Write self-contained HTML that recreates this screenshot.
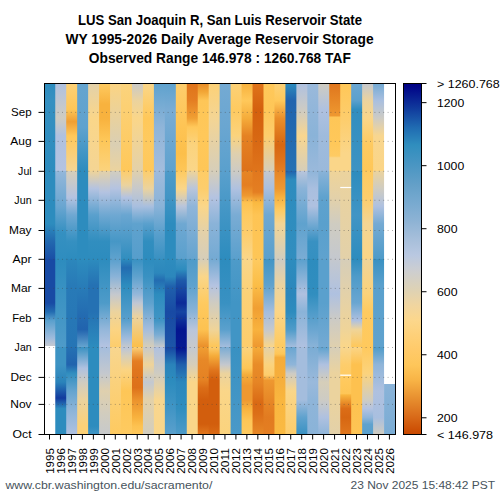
<!DOCTYPE html><html><head><meta charset="utf-8"><style>html,body{margin:0;padding:0;background:#fff;}svg{display:block;}</style></head><body>
<svg width="500" height="500" viewBox="0 0 500 500">
<defs><linearGradient id="g0" gradientUnits="userSpaceOnUse" x1="0" y1="83.5" x2="0" y2="434.5"><stop offset="0.0000" stop-color="#2d8cbe"/><stop offset="0.0487" stop-color="#3590c1"/><stop offset="0.2493" stop-color="#2d8cbe"/><stop offset="0.2493" stop-color="#2d8cbe"/><stop offset="0.3997" stop-color="#2d8cbe"/><stop offset="0.4499" stop-color="#2268af"/><stop offset="0.5000" stop-color="#1a4fa6"/><stop offset="0.5000" stop-color="#184aa4"/><stop offset="0.6254" stop-color="#184aa4"/><stop offset="0.6504" stop-color="#236cb1"/><stop offset="0.6755" stop-color="#5aa0cd"/><stop offset="0.7256" stop-color="#9fbbdc"/><stop offset="0.7457" stop-color="#c2c8d1"/></linearGradient><linearGradient id="g1" gradientUnits="userSpaceOnUse" x1="0" y1="83.5" x2="0" y2="434.5"><stop offset="0.0000" stop-color="#afc1e0"/><stop offset="0.0989" stop-color="#cfccc1"/><stop offset="0.1490" stop-color="#afc1e0"/><stop offset="0.2493" stop-color="#b4c3e1"/><stop offset="0.2493" stop-color="#94b7da"/><stop offset="0.3496" stop-color="#6aa6d1"/><stop offset="0.4248" stop-color="#3590c1"/><stop offset="0.5000" stop-color="#2f8dbf"/><stop offset="0.5000" stop-color="#2d8cbe"/><stop offset="0.7507" stop-color="#4e9bc9"/><stop offset="0.7507" stop-color="#3d93c3"/><stop offset="0.8009" stop-color="#3d93c3"/><stop offset="0.8510" stop-color="#2a83ba"/><stop offset="0.8961" stop-color="#123a9e"/><stop offset="0.9262" stop-color="#2d8cbe"/><stop offset="1.0000" stop-color="#2d8cbe"/></linearGradient><linearGradient id="g2" gradientUnits="userSpaceOnUse" x1="0" y1="83.5" x2="0" y2="434.5"><stop offset="0.0000" stop-color="#fcd177"/><stop offset="0.0738" stop-color="#fec657"/><stop offset="0.1089" stop-color="#f09f33"/><stop offset="0.1490" stop-color="#ffc85a"/><stop offset="0.2493" stop-color="#f4d594"/><stop offset="0.2493" stop-color="#d6ceb9"/><stop offset="0.3245" stop-color="#b4c3e1"/><stop offset="0.3746" stop-color="#6fa8d2"/><stop offset="0.4499" stop-color="#3590c1"/><stop offset="0.5000" stop-color="#2d8cbe"/><stop offset="0.5000" stop-color="#2c87bc"/><stop offset="0.5752" stop-color="#287ab7"/><stop offset="0.7507" stop-color="#2675b5"/><stop offset="0.7507" stop-color="#2571b3"/><stop offset="0.8009" stop-color="#2163ae"/><stop offset="0.8259" stop-color="#318ebf"/><stop offset="0.8761" stop-color="#65a4cf"/><stop offset="0.9262" stop-color="#8ab3d8"/><stop offset="1.0000" stop-color="#afc1e0"/></linearGradient><linearGradient id="g3" gradientUnits="userSpaceOnUse" x1="0" y1="83.5" x2="0" y2="434.5"><stop offset="0.0000" stop-color="#65a4cf"/><stop offset="0.1239" stop-color="#5fa2ce"/><stop offset="0.2493" stop-color="#2d8cbe"/><stop offset="0.2493" stop-color="#2d8cbe"/><stop offset="0.5000" stop-color="#2d8cbe"/><stop offset="0.5000" stop-color="#2d8cbe"/><stop offset="0.7006" stop-color="#2163ae"/><stop offset="0.7507" stop-color="#65a4cf"/><stop offset="0.7507" stop-color="#3991c2"/><stop offset="0.8109" stop-color="#afc1e0"/><stop offset="0.8510" stop-color="#cfccc1"/><stop offset="0.9011" stop-color="#ebd39e"/><stop offset="0.9764" stop-color="#fcd177"/><stop offset="1.0000" stop-color="#fcd177"/></linearGradient><linearGradient id="g4" gradientUnits="userSpaceOnUse" x1="0" y1="83.5" x2="0" y2="434.5"><stop offset="0.0000" stop-color="#e3d1a9"/><stop offset="0.0989" stop-color="#fad689"/><stop offset="0.2493" stop-color="#f4d594"/><stop offset="0.2493" stop-color="#efd499"/><stop offset="0.2994" stop-color="#b4c3e1"/><stop offset="0.3746" stop-color="#5aa0cd"/><stop offset="0.4499" stop-color="#318ebf"/><stop offset="0.5000" stop-color="#2d8cbe"/><stop offset="0.5000" stop-color="#2d8cbe"/><stop offset="0.5752" stop-color="#2571b3"/><stop offset="0.6504" stop-color="#2571b3"/><stop offset="0.7507" stop-color="#2d8cbe"/><stop offset="0.7507" stop-color="#2d8cbe"/><stop offset="0.9764" stop-color="#2d8cbe"/><stop offset="1.0000" stop-color="#4195c5"/></linearGradient><linearGradient id="g5" gradientUnits="userSpaceOnUse" x1="0" y1="83.5" x2="0" y2="434.5"><stop offset="0.0000" stop-color="#feca60"/><stop offset="0.0587" stop-color="#f8b23e"/><stop offset="0.0989" stop-color="#f8b23e"/><stop offset="0.1590" stop-color="#fec657"/><stop offset="0.2493" stop-color="#fbd37d"/><stop offset="0.2493" stop-color="#e3d1a9"/><stop offset="0.3095" stop-color="#b4c3e1"/><stop offset="0.3746" stop-color="#6fa8d2"/><stop offset="0.4499" stop-color="#318ebf"/><stop offset="0.5000" stop-color="#2d8cbe"/><stop offset="0.5000" stop-color="#2d8cbe"/><stop offset="0.6254" stop-color="#4e9bc9"/><stop offset="0.7006" stop-color="#94b7da"/><stop offset="0.7507" stop-color="#b4c3e1"/><stop offset="0.7507" stop-color="#a4bddd"/><stop offset="0.8259" stop-color="#c4c8ce"/><stop offset="0.8761" stop-color="#dfd0ae"/><stop offset="0.9513" stop-color="#cfccc1"/><stop offset="1.0000" stop-color="#c7c9cb"/></linearGradient><linearGradient id="g6" gradientUnits="userSpaceOnUse" x1="0" y1="83.5" x2="0" y2="434.5"><stop offset="0.0000" stop-color="#fbd483"/><stop offset="0.1741" stop-color="#dacfb3"/><stop offset="0.2493" stop-color="#ebd39e"/><stop offset="0.2493" stop-color="#d2cdbe"/><stop offset="0.2994" stop-color="#b4c3e1"/><stop offset="0.3746" stop-color="#6fa8d2"/><stop offset="0.4499" stop-color="#4697c6"/><stop offset="0.5000" stop-color="#5fa2ce"/><stop offset="0.5000" stop-color="#5aa0cd"/><stop offset="0.5501" stop-color="#8ab3d8"/><stop offset="0.6003" stop-color="#c4c8ce"/><stop offset="0.6504" stop-color="#ebd39e"/><stop offset="0.7006" stop-color="#fbd483"/><stop offset="0.7507" stop-color="#fdcd6c"/><stop offset="0.7507" stop-color="#f8d68f"/><stop offset="1.0000" stop-color="#feca60"/></linearGradient><linearGradient id="g7" gradientUnits="userSpaceOnUse" x1="0" y1="83.5" x2="0" y2="434.5"><stop offset="0.0000" stop-color="#fbd37d"/><stop offset="0.2493" stop-color="#ffc85a"/><stop offset="0.2493" stop-color="#fdcd6c"/><stop offset="0.2894" stop-color="#ebd39e"/><stop offset="0.3245" stop-color="#b4c3e1"/><stop offset="0.3746" stop-color="#6aa6d1"/><stop offset="0.5000" stop-color="#318ebf"/><stop offset="0.5000" stop-color="#2d8cbe"/><stop offset="0.5251" stop-color="#236cb1"/><stop offset="0.5752" stop-color="#2d8cbe"/><stop offset="0.6755" stop-color="#5aa0cd"/><stop offset="0.7256" stop-color="#9fbbdc"/><stop offset="0.7507" stop-color="#c4c8ce"/><stop offset="0.7507" stop-color="#b9c5db"/><stop offset="0.7758" stop-color="#d6ceb9"/><stop offset="0.8159" stop-color="#fbd483"/><stop offset="0.8761" stop-color="#fec657"/><stop offset="1.0000" stop-color="#feca60"/></linearGradient><linearGradient id="g8" gradientUnits="userSpaceOnUse" x1="0" y1="83.5" x2="0" y2="434.5"><stop offset="0.0000" stop-color="#cacac8"/><stop offset="0.0487" stop-color="#ebd39e"/><stop offset="0.0989" stop-color="#fad689"/><stop offset="0.2493" stop-color="#e3d1a9"/><stop offset="0.2493" stop-color="#dfd0ae"/><stop offset="0.2994" stop-color="#c7c9cb"/><stop offset="0.3496" stop-color="#a9bfdf"/><stop offset="0.3997" stop-color="#5fa2ce"/><stop offset="0.5000" stop-color="#569ecc"/><stop offset="0.5000" stop-color="#3991c2"/><stop offset="0.5501" stop-color="#5fa2ce"/><stop offset="0.6003" stop-color="#94b7da"/><stop offset="0.6254" stop-color="#bfc7d4"/><stop offset="0.6655" stop-color="#ebd39e"/><stop offset="0.7507" stop-color="#fcbf4a"/><stop offset="0.7507" stop-color="#fcd177"/><stop offset="0.7908" stop-color="#e47e22"/><stop offset="0.8159" stop-color="#e0761d"/><stop offset="0.8660" stop-color="#dd711a"/><stop offset="0.9011" stop-color="#eb922c"/><stop offset="0.9513" stop-color="#f8b23e"/><stop offset="0.9764" stop-color="#fdc251"/><stop offset="1.0000" stop-color="#ffc85a"/></linearGradient><linearGradient id="g9" gradientUnits="userSpaceOnUse" x1="0" y1="83.5" x2="0" y2="434.5"><stop offset="0.0000" stop-color="#fad689"/><stop offset="0.0989" stop-color="#ffc85a"/><stop offset="0.1741" stop-color="#feca60"/><stop offset="0.2493" stop-color="#ffc85a"/><stop offset="0.2493" stop-color="#fdcd6c"/><stop offset="0.2994" stop-color="#ebd39e"/><stop offset="0.3496" stop-color="#a9bfdf"/><stop offset="0.3997" stop-color="#5aa0cd"/><stop offset="0.4499" stop-color="#318ebf"/><stop offset="0.5000" stop-color="#2d8cbe"/><stop offset="0.5000" stop-color="#2d8cbe"/><stop offset="0.5501" stop-color="#3991c2"/><stop offset="0.6254" stop-color="#5fa2ce"/><stop offset="0.7006" stop-color="#a4bddd"/><stop offset="0.7507" stop-color="#d6ceb9"/><stop offset="0.7507" stop-color="#c7c9cb"/><stop offset="0.8009" stop-color="#efd499"/><stop offset="0.8510" stop-color="#c2c8d1"/><stop offset="0.9011" stop-color="#e3d1a9"/><stop offset="1.0000" stop-color="#d2cdbe"/></linearGradient><linearGradient id="g10" gradientUnits="userSpaceOnUse" x1="0" y1="83.5" x2="0" y2="434.5"><stop offset="0.0000" stop-color="#5fa2ce"/><stop offset="0.1239" stop-color="#8fb5d9"/><stop offset="0.2493" stop-color="#a4bddd"/><stop offset="0.2493" stop-color="#9fbbdc"/><stop offset="0.3496" stop-color="#8ab3d8"/><stop offset="0.4248" stop-color="#5aa0cd"/><stop offset="0.5000" stop-color="#3991c2"/><stop offset="0.5000" stop-color="#318ebf"/><stop offset="0.5401" stop-color="#2c87bc"/><stop offset="0.5602" stop-color="#236cb1"/><stop offset="0.6003" stop-color="#2d8cbe"/><stop offset="0.6755" stop-color="#4195c5"/><stop offset="0.7156" stop-color="#7aacd4"/><stop offset="0.7507" stop-color="#c7c9cb"/><stop offset="0.7507" stop-color="#afc1e0"/><stop offset="0.8259" stop-color="#cfccc1"/><stop offset="0.9011" stop-color="#f8d68f"/><stop offset="1.0000" stop-color="#fad689"/></linearGradient><linearGradient id="g11" gradientUnits="userSpaceOnUse" x1="0" y1="83.5" x2="0" y2="434.5"><stop offset="0.0000" stop-color="#5fa2ce"/><stop offset="0.0738" stop-color="#7aacd4"/><stop offset="0.1741" stop-color="#6aa6d1"/><stop offset="0.2493" stop-color="#5fa2ce"/><stop offset="0.2493" stop-color="#4e9bc9"/><stop offset="0.3245" stop-color="#4195c5"/><stop offset="0.3997" stop-color="#2d8cbe"/><stop offset="0.5000" stop-color="#2d8cbe"/><stop offset="0.5000" stop-color="#2d8cbe"/><stop offset="0.5501" stop-color="#2c87bc"/><stop offset="0.5802" stop-color="#1f5fac"/><stop offset="0.6504" stop-color="#184aa4"/><stop offset="0.7507" stop-color="#1c55a8"/><stop offset="0.7507" stop-color="#1645a2"/><stop offset="0.8009" stop-color="#2a83ba"/><stop offset="0.8510" stop-color="#2d8cbe"/><stop offset="0.9262" stop-color="#4195c5"/><stop offset="1.0000" stop-color="#5aa0cd"/></linearGradient><linearGradient id="g12" gradientUnits="userSpaceOnUse" x1="0" y1="83.5" x2="0" y2="434.5"><stop offset="0.0000" stop-color="#fdcd6c"/><stop offset="0.1239" stop-color="#fec454"/><stop offset="0.1991" stop-color="#fcbf4a"/><stop offset="0.2493" stop-color="#fec657"/><stop offset="0.2493" stop-color="#feca60"/><stop offset="0.2994" stop-color="#fad689"/><stop offset="0.3496" stop-color="#b9c5db"/><stop offset="0.3997" stop-color="#6fa8d2"/><stop offset="0.5000" stop-color="#5aa0cd"/><stop offset="0.5000" stop-color="#4195c5"/><stop offset="0.5301" stop-color="#2d8cbe"/><stop offset="0.5602" stop-color="#1e5aaa"/><stop offset="0.6254" stop-color="#0c2a98"/><stop offset="0.6504" stop-color="#1645a2"/><stop offset="0.7006" stop-color="#041590"/><stop offset="0.7507" stop-color="#061a92"/><stop offset="0.7507" stop-color="#02108e"/><stop offset="0.8009" stop-color="#1f5fac"/><stop offset="0.8510" stop-color="#2c87bc"/><stop offset="0.9262" stop-color="#318ebf"/><stop offset="1.0000" stop-color="#4e9bc9"/></linearGradient><linearGradient id="g13" gradientUnits="userSpaceOnUse" x1="0" y1="83.5" x2="0" y2="434.5"><stop offset="0.0000" stop-color="#df741b"/><stop offset="0.0487" stop-color="#e47e22"/><stop offset="0.0989" stop-color="#f09f33"/><stop offset="0.1239" stop-color="#ffc85a"/><stop offset="0.1741" stop-color="#fbd37d"/><stop offset="0.2493" stop-color="#fad689"/><stop offset="0.2493" stop-color="#efd499"/><stop offset="0.2994" stop-color="#b9c5db"/><stop offset="0.3496" stop-color="#8fb5d9"/><stop offset="0.5000" stop-color="#65a4cf"/><stop offset="0.5000" stop-color="#4e9bc9"/><stop offset="0.5752" stop-color="#5fa2ce"/><stop offset="0.6504" stop-color="#8ab3d8"/><stop offset="0.7006" stop-color="#b9c5db"/><stop offset="0.7507" stop-color="#c7c9cb"/><stop offset="0.7507" stop-color="#c2c8d1"/><stop offset="0.8009" stop-color="#d6ceb9"/><stop offset="0.8510" stop-color="#fad689"/><stop offset="1.0000" stop-color="#fad689"/></linearGradient><linearGradient id="g14" gradientUnits="userSpaceOnUse" x1="0" y1="83.5" x2="0" y2="434.5"><stop offset="0.0000" stop-color="#e88c28"/><stop offset="0.0236" stop-color="#f2a636"/><stop offset="0.0487" stop-color="#fec657"/><stop offset="0.1490" stop-color="#ffc85a"/><stop offset="0.2493" stop-color="#fec657"/><stop offset="0.2493" stop-color="#fecc66"/><stop offset="0.2994" stop-color="#fdcd6c"/><stop offset="0.3496" stop-color="#fad689"/><stop offset="0.4248" stop-color="#e3d1a9"/><stop offset="0.5000" stop-color="#d6ceb9"/><stop offset="0.5000" stop-color="#d6ceb9"/><stop offset="0.5501" stop-color="#fad689"/><stop offset="0.6254" stop-color="#feca60"/><stop offset="0.7006" stop-color="#fdc251"/><stop offset="0.7507" stop-color="#ea8f2a"/><stop offset="0.7507" stop-color="#f09f33"/><stop offset="0.7878" stop-color="#e78827"/><stop offset="0.8450" stop-color="#e58223"/><stop offset="0.8675" stop-color="#db6d17"/><stop offset="0.9016" stop-color="#d25e0d"/><stop offset="0.9703" stop-color="#d25e0d"/><stop offset="1.0000" stop-color="#e1781e"/></linearGradient><linearGradient id="g15" gradientUnits="userSpaceOnUse" x1="0" y1="83.5" x2="0" y2="434.5"><stop offset="0.0000" stop-color="#fcd177"/><stop offset="0.0989" stop-color="#f4d594"/><stop offset="0.2493" stop-color="#d6ceb9"/><stop offset="0.2493" stop-color="#d6ceb9"/><stop offset="0.3245" stop-color="#b4c3e1"/><stop offset="0.3997" stop-color="#8ab3d8"/><stop offset="0.5000" stop-color="#74aad3"/><stop offset="0.5000" stop-color="#74aad3"/><stop offset="0.5752" stop-color="#b4c3e1"/><stop offset="0.6254" stop-color="#cfccc1"/><stop offset="0.7006" stop-color="#efd499"/><stop offset="0.7507" stop-color="#fec657"/><stop offset="0.7507" stop-color="#fdcd6c"/><stop offset="0.7758" stop-color="#f5ac3a"/><stop offset="0.8159" stop-color="#e0761d"/><stop offset="0.8450" stop-color="#d25e0d"/><stop offset="0.9703" stop-color="#d25e0d"/><stop offset="1.0000" stop-color="#da6b15"/></linearGradient><linearGradient id="g16" gradientUnits="userSpaceOnUse" x1="0" y1="83.5" x2="0" y2="434.5"><stop offset="0.0000" stop-color="#74aad3"/><stop offset="0.1239" stop-color="#6aa6d1"/><stop offset="0.2493" stop-color="#5aa0cd"/><stop offset="0.2493" stop-color="#5aa0cd"/><stop offset="0.3746" stop-color="#4195c5"/><stop offset="0.5000" stop-color="#2d8cbe"/><stop offset="0.5000" stop-color="#2d8cbe"/><stop offset="0.6254" stop-color="#3991c2"/><stop offset="0.7006" stop-color="#5aa0cd"/><stop offset="0.7507" stop-color="#a4bddd"/><stop offset="0.7507" stop-color="#7aacd4"/><stop offset="0.8009" stop-color="#c4c8ce"/><stop offset="0.8259" stop-color="#ebd39e"/><stop offset="0.8761" stop-color="#fad689"/><stop offset="1.0000" stop-color="#fbd37d"/></linearGradient><linearGradient id="g17" gradientUnits="userSpaceOnUse" x1="0" y1="83.5" x2="0" y2="434.5"><stop offset="0.0000" stop-color="#fcd177"/><stop offset="0.0738" stop-color="#feca60"/><stop offset="0.1490" stop-color="#fbd37d"/><stop offset="0.1991" stop-color="#dfd0ae"/><stop offset="0.2493" stop-color="#cdcbc4"/><stop offset="0.2493" stop-color="#cdcbc4"/><stop offset="0.2994" stop-color="#afc1e0"/><stop offset="0.3746" stop-color="#7aacd4"/><stop offset="0.5000" stop-color="#5aa0cd"/><stop offset="0.5000" stop-color="#4e9bc9"/><stop offset="0.6254" stop-color="#4195c5"/><stop offset="0.7507" stop-color="#4195c5"/><stop offset="0.7507" stop-color="#3991c2"/><stop offset="0.8761" stop-color="#4195c5"/><stop offset="1.0000" stop-color="#4a99c8"/></linearGradient><linearGradient id="g18" gradientUnits="userSpaceOnUse" x1="0" y1="83.5" x2="0" y2="434.5"><stop offset="0.0000" stop-color="#f8b23e"/><stop offset="0.0487" stop-color="#ffc85a"/><stop offset="0.0989" stop-color="#f5ac3a"/><stop offset="0.1490" stop-color="#e58223"/><stop offset="0.2493" stop-color="#dd711a"/><stop offset="0.2493" stop-color="#e68525"/><stop offset="0.2894" stop-color="#e47e22"/><stop offset="0.3195" stop-color="#ee9830"/><stop offset="0.3395" stop-color="#fdc251"/><stop offset="0.3746" stop-color="#feca60"/><stop offset="0.4248" stop-color="#fdcd6c"/><stop offset="0.5000" stop-color="#fad689"/><stop offset="0.5000" stop-color="#fad689"/><stop offset="0.6003" stop-color="#fcd177"/><stop offset="0.7507" stop-color="#fdcd6c"/><stop offset="0.7507" stop-color="#fbd37d"/><stop offset="0.8109" stop-color="#fec657"/><stop offset="0.8309" stop-color="#f5ac3a"/><stop offset="0.8610" stop-color="#ee9830"/><stop offset="0.9011" stop-color="#ee9830"/><stop offset="0.9262" stop-color="#f8b23e"/><stop offset="0.9613" stop-color="#fec657"/><stop offset="1.0000" stop-color="#feca60"/></linearGradient><linearGradient id="g19" gradientUnits="userSpaceOnUse" x1="0" y1="83.5" x2="0" y2="434.5"><stop offset="0.0000" stop-color="#df741b"/><stop offset="0.0738" stop-color="#d4600e"/><stop offset="0.1490" stop-color="#d76712"/><stop offset="0.1991" stop-color="#db6d17"/><stop offset="0.2493" stop-color="#df741b"/><stop offset="0.2493" stop-color="#e1781e"/><stop offset="0.3095" stop-color="#e47e22"/><stop offset="0.3395" stop-color="#fab941"/><stop offset="0.3746" stop-color="#fec454"/><stop offset="0.5000" stop-color="#fec657"/><stop offset="0.5000" stop-color="#feca60"/><stop offset="0.5752" stop-color="#fbbd47"/><stop offset="0.6404" stop-color="#f09f33"/><stop offset="0.7006" stop-color="#f8b23e"/><stop offset="0.7507" stop-color="#ee9830"/><stop offset="0.7507" stop-color="#f5ac3a"/><stop offset="0.8009" stop-color="#e88c28"/><stop offset="0.8510" stop-color="#e68525"/><stop offset="0.9112" stop-color="#d96914"/><stop offset="0.9413" stop-color="#dc6f18"/><stop offset="1.0000" stop-color="#e78827"/></linearGradient><linearGradient id="g20" gradientUnits="userSpaceOnUse" x1="0" y1="83.5" x2="0" y2="434.5"><stop offset="0.0000" stop-color="#ffc85a"/><stop offset="0.0738" stop-color="#fec657"/><stop offset="0.1490" stop-color="#fdcd6c"/><stop offset="0.2493" stop-color="#d6ceb9"/><stop offset="0.2493" stop-color="#c4c8ce"/><stop offset="0.2994" stop-color="#a9bfdf"/><stop offset="0.3746" stop-color="#6fa8d2"/><stop offset="0.5000" stop-color="#5aa0cd"/><stop offset="0.5000" stop-color="#4195c5"/><stop offset="0.5752" stop-color="#5fa2ce"/><stop offset="0.6504" stop-color="#a4bddd"/><stop offset="0.7006" stop-color="#c4c8ce"/><stop offset="0.7507" stop-color="#fad689"/><stop offset="0.7507" stop-color="#e3d1a9"/><stop offset="0.8009" stop-color="#fbd37d"/><stop offset="0.8309" stop-color="#fdcd6c"/><stop offset="0.8460" stop-color="#ee9830"/><stop offset="0.9011" stop-color="#e78827"/><stop offset="0.9513" stop-color="#e27b20"/><stop offset="1.0000" stop-color="#e47e22"/></linearGradient><linearGradient id="g21" gradientUnits="userSpaceOnUse" x1="0" y1="83.5" x2="0" y2="434.5"><stop offset="0.0000" stop-color="#fcd177"/><stop offset="0.0487" stop-color="#ffc85a"/><stop offset="0.0989" stop-color="#ea8f2a"/><stop offset="0.1741" stop-color="#d76712"/><stop offset="0.2242" stop-color="#df741b"/><stop offset="0.2493" stop-color="#e47e22"/><stop offset="0.2493" stop-color="#e68525"/><stop offset="0.2994" stop-color="#ee9830"/><stop offset="0.3245" stop-color="#f8b23e"/><stop offset="0.3596" stop-color="#feca60"/><stop offset="0.3997" stop-color="#f4d594"/><stop offset="0.5000" stop-color="#d2cdbe"/><stop offset="0.5000" stop-color="#cdcbc4"/><stop offset="0.5752" stop-color="#ebd39e"/><stop offset="0.6504" stop-color="#fbd586"/><stop offset="0.7507" stop-color="#feca60"/><stop offset="0.7507" stop-color="#fdcd6c"/><stop offset="0.7708" stop-color="#fec657"/><stop offset="0.7808" stop-color="#f5ac3a"/><stop offset="0.8510" stop-color="#f6af3c"/><stop offset="0.9011" stop-color="#f9b63f"/><stop offset="1.0000" stop-color="#faba43"/></linearGradient><linearGradient id="g22" gradientUnits="userSpaceOnUse" x1="0" y1="83.5" x2="0" y2="434.5"><stop offset="0.0000" stop-color="#2d8cbe"/><stop offset="0.0487" stop-color="#2163ae"/><stop offset="0.2493" stop-color="#2571b3"/><stop offset="0.2493" stop-color="#2163ae"/><stop offset="0.2744" stop-color="#2d8cbe"/><stop offset="0.5000" stop-color="#318ebf"/><stop offset="0.5000" stop-color="#2d8cbe"/><stop offset="0.6003" stop-color="#2c87bc"/><stop offset="0.6504" stop-color="#2d8cbe"/><stop offset="0.7006" stop-color="#4e9bc9"/><stop offset="0.7507" stop-color="#a4bddd"/><stop offset="0.7507" stop-color="#6aa6d1"/><stop offset="0.8009" stop-color="#8fb5d9"/><stop offset="0.8259" stop-color="#cdcbc4"/><stop offset="0.8761" stop-color="#fad689"/><stop offset="1.0000" stop-color="#fdcd6c"/></linearGradient><linearGradient id="g23" gradientUnits="userSpaceOnUse" x1="0" y1="83.5" x2="0" y2="434.5"><stop offset="0.0000" stop-color="#afc1e0"/><stop offset="0.0738" stop-color="#cdcbc4"/><stop offset="0.1490" stop-color="#f8d68f"/><stop offset="0.2493" stop-color="#d6ceb9"/><stop offset="0.2493" stop-color="#b9c5db"/><stop offset="0.2994" stop-color="#8ab3d8"/><stop offset="0.3997" stop-color="#5fa2ce"/><stop offset="0.5000" stop-color="#7aacd4"/><stop offset="0.5000" stop-color="#5aa0cd"/><stop offset="0.6003" stop-color="#afc1e0"/><stop offset="0.6504" stop-color="#8ab3d8"/><stop offset="0.7507" stop-color="#afc1e0"/><stop offset="0.7507" stop-color="#a4bddd"/><stop offset="0.9011" stop-color="#a4bddd"/><stop offset="0.9513" stop-color="#5fa2ce"/><stop offset="1.0000" stop-color="#3991c2"/></linearGradient><linearGradient id="g24" gradientUnits="userSpaceOnUse" x1="0" y1="83.5" x2="0" y2="434.5"><stop offset="0.0000" stop-color="#9ab9db"/><stop offset="0.1490" stop-color="#8ab3d8"/><stop offset="0.2493" stop-color="#9ab9db"/><stop offset="0.2493" stop-color="#8fb5d9"/><stop offset="0.2994" stop-color="#a9bfdf"/><stop offset="0.3496" stop-color="#afc1e0"/><stop offset="0.3997" stop-color="#74aad3"/><stop offset="0.4499" stop-color="#3991c2"/><stop offset="0.5000" stop-color="#3590c1"/><stop offset="0.5000" stop-color="#2d8cbe"/><stop offset="0.6003" stop-color="#318ebf"/><stop offset="0.6504" stop-color="#4e9bc9"/><stop offset="0.7006" stop-color="#6aa6d1"/><stop offset="0.7507" stop-color="#8ab3d8"/><stop offset="0.7507" stop-color="#7aacd4"/><stop offset="0.8510" stop-color="#9ab9db"/><stop offset="0.9011" stop-color="#8fb5d9"/><stop offset="1.0000" stop-color="#8ab3d8"/></linearGradient><linearGradient id="g25" gradientUnits="userSpaceOnUse" x1="0" y1="83.5" x2="0" y2="434.5"><stop offset="0.0000" stop-color="#cfccc1"/><stop offset="0.0738" stop-color="#afc1e0"/><stop offset="0.1490" stop-color="#9fbbdc"/><stop offset="0.2493" stop-color="#9ab9db"/><stop offset="0.2493" stop-color="#8ab3d8"/><stop offset="0.3245" stop-color="#5fa2ce"/><stop offset="0.3997" stop-color="#5aa0cd"/><stop offset="0.5000" stop-color="#5fa2ce"/><stop offset="0.5000" stop-color="#5aa0cd"/><stop offset="0.6254" stop-color="#5aa0cd"/><stop offset="0.7507" stop-color="#74aad3"/><stop offset="0.7507" stop-color="#5fa2ce"/><stop offset="0.8009" stop-color="#afc1e0"/><stop offset="0.8510" stop-color="#d6ceb9"/><stop offset="0.9011" stop-color="#cdcbc4"/><stop offset="0.9513" stop-color="#afc1e0"/><stop offset="1.0000" stop-color="#8fb5d9"/></linearGradient><linearGradient id="g26" gradientUnits="userSpaceOnUse" x1="0" y1="83.5" x2="0" y2="434.5"><stop offset="0.0000" stop-color="#e0761d"/><stop offset="0.0487" stop-color="#e78827"/><stop offset="0.0913" stop-color="#ee9830"/><stop offset="0.0964" stop-color="#fec657"/><stop offset="0.1741" stop-color="#ffc85a"/><stop offset="0.2067" stop-color="#fecb63"/><stop offset="0.2117" stop-color="#fad689"/><stop offset="0.2493" stop-color="#fad689"/><stop offset="0.2493" stop-color="#efd499"/><stop offset="0.3245" stop-color="#e3d1a9"/><stop offset="0.3997" stop-color="#cfccc1"/><stop offset="0.5000" stop-color="#c4c8ce"/><stop offset="0.5000" stop-color="#c4c8ce"/><stop offset="0.6003" stop-color="#afc1e0"/><stop offset="0.6755" stop-color="#cdcbc4"/><stop offset="0.7507" stop-color="#dfd0ae"/><stop offset="0.7507" stop-color="#d6ceb9"/><stop offset="0.8259" stop-color="#ebd39e"/><stop offset="0.9011" stop-color="#ebd39e"/><stop offset="1.0000" stop-color="#e3d1a9"/></linearGradient><linearGradient id="g27" gradientUnits="userSpaceOnUse" x1="0" y1="83.5" x2="0" y2="434.5"><stop offset="0.0000" stop-color="#ffc758"/><stop offset="0.0989" stop-color="#fdcd6c"/><stop offset="0.1991" stop-color="#fad689"/><stop offset="0.2493" stop-color="#fad689"/><stop offset="0.2493" stop-color="#ebd39e"/><stop offset="0.5000" stop-color="#e3d1a9"/><stop offset="0.5000" stop-color="#d6ceb9"/><stop offset="0.6003" stop-color="#e3d1a9"/><stop offset="0.7006" stop-color="#efd499"/><stop offset="0.7507" stop-color="#fad689"/><stop offset="0.7507" stop-color="#f8d68f"/><stop offset="0.8009" stop-color="#fdcd6c"/><stop offset="0.8510" stop-color="#ffc95d"/><stop offset="0.8841" stop-color="#fec657"/><stop offset="0.8871" stop-color="#f9b63f"/><stop offset="0.9262" stop-color="#db6d17"/><stop offset="0.9513" stop-color="#d76712"/><stop offset="1.0000" stop-color="#e0761d"/></linearGradient><linearGradient id="g28" gradientUnits="userSpaceOnUse" x1="0" y1="83.5" x2="0" y2="434.5"><stop offset="0.0000" stop-color="#6aa6d1"/><stop offset="0.0487" stop-color="#5aa0cd"/><stop offset="0.0738" stop-color="#318ebf"/><stop offset="0.2493" stop-color="#3d93c3"/><stop offset="0.2493" stop-color="#2d8cbe"/><stop offset="0.3746" stop-color="#4195c5"/><stop offset="0.5000" stop-color="#2d8cbe"/><stop offset="0.5000" stop-color="#2d8cbe"/><stop offset="0.5501" stop-color="#4e9bc9"/><stop offset="0.6254" stop-color="#6aa6d1"/><stop offset="0.6755" stop-color="#afc1e0"/><stop offset="0.7006" stop-color="#efd499"/><stop offset="0.7507" stop-color="#ffc85a"/><stop offset="0.7507" stop-color="#fbd586"/><stop offset="0.8009" stop-color="#fdc14f"/><stop offset="0.9011" stop-color="#fdc14f"/><stop offset="1.0000" stop-color="#fec555"/></linearGradient><linearGradient id="g29" gradientUnits="userSpaceOnUse" x1="0" y1="83.5" x2="0" y2="434.5"><stop offset="0.0000" stop-color="#c4c8ce"/><stop offset="0.0487" stop-color="#ebd39e"/><stop offset="0.0989" stop-color="#fad689"/><stop offset="0.1741" stop-color="#feca60"/><stop offset="0.2493" stop-color="#ffc758"/><stop offset="0.2493" stop-color="#feca60"/><stop offset="0.3245" stop-color="#fdcd6c"/><stop offset="0.3997" stop-color="#f4d594"/><stop offset="0.5000" stop-color="#fbd586"/><stop offset="0.5000" stop-color="#efd499"/><stop offset="0.6003" stop-color="#fcd27a"/><stop offset="0.6504" stop-color="#feca60"/><stop offset="0.7507" stop-color="#ffc95d"/><stop offset="0.7507" stop-color="#ffc95d"/><stop offset="0.8259" stop-color="#fbd37d"/><stop offset="0.9011" stop-color="#cfccc1"/><stop offset="0.9262" stop-color="#b4c3e1"/><stop offset="0.9513" stop-color="#8fb5d9"/><stop offset="0.9713" stop-color="#5fa2ce"/><stop offset="1.0000" stop-color="#5aa0cd"/></linearGradient><linearGradient id="g30" gradientUnits="userSpaceOnUse" x1="0" y1="83.5" x2="0" y2="434.5"><stop offset="0.0000" stop-color="#74aad3"/><stop offset="0.0487" stop-color="#a9bfdf"/><stop offset="0.0989" stop-color="#cdcbc4"/><stop offset="0.1490" stop-color="#f8d68f"/><stop offset="0.2493" stop-color="#fbd586"/><stop offset="0.2493" stop-color="#ebd39e"/><stop offset="0.2994" stop-color="#cfccc1"/><stop offset="0.3496" stop-color="#afc1e0"/><stop offset="0.3997" stop-color="#74aad3"/><stop offset="0.5000" stop-color="#4e9bc9"/><stop offset="0.5000" stop-color="#3991c2"/><stop offset="0.5752" stop-color="#5aa0cd"/><stop offset="0.7507" stop-color="#5fa2ce"/><stop offset="0.7507" stop-color="#4e9bc9"/><stop offset="0.8009" stop-color="#8fb5d9"/><stop offset="0.8761" stop-color="#afc1e0"/><stop offset="0.9513" stop-color="#a9bfdf"/><stop offset="1.0000" stop-color="#cfccc1"/></linearGradient><linearGradient id="g31" gradientUnits="userSpaceOnUse" x1="0" y1="83.5" x2="0" y2="434.5"><stop offset="0.8560" stop-color="#8ab3d8"/><stop offset="1.0000" stop-color="#7aacd4"/></linearGradient><linearGradient id="cb" gradientUnits="userSpaceOnUse" x1="0" y1="83.5" x2="0" y2="434.5"><stop offset="0.0000" stop-color="#000082"/><stop offset="0.0128" stop-color="#020889"/><stop offset="0.0670" stop-color="#0f379b"/><stop offset="0.1268" stop-color="#206cb2"/><stop offset="0.1752" stop-color="#308ebe"/><stop offset="0.2350" stop-color="#4b96c3"/><stop offset="0.2892" stop-color="#64a0c8"/><stop offset="0.3405" stop-color="#78aad0"/><stop offset="0.3889" stop-color="#8cb2d4"/><stop offset="0.4402" stop-color="#a5beda"/><stop offset="0.4886" stop-color="#b9c8e1"/><stop offset="0.5342" stop-color="#cdced0"/><stop offset="0.5883" stop-color="#ded2b4"/><stop offset="0.6311" stop-color="#f0d5a0"/><stop offset="0.6738" stop-color="#fcd78c"/><stop offset="0.7194" stop-color="#fed078"/><stop offset="0.7593" stop-color="#ffca69"/><stop offset="0.8020" stop-color="#fec65a"/><stop offset="0.8447" stop-color="#f8b446"/><stop offset="0.9017" stop-color="#e68c2d"/><stop offset="0.9444" stop-color="#da6e1c"/><stop offset="0.9872" stop-color="#cd5005"/><stop offset="1.0000" stop-color="#c84800"/></linearGradient></defs>
<rect width="500" height="500" fill="#fff"/>
<rect x="44.30" y="83.50" width="11.96" height="262.50" fill="url(#g0)"/>
<rect x="55.26" y="83.50" width="11.96" height="351.00" fill="url(#g1)"/>
<rect x="66.22" y="83.50" width="11.96" height="351.00" fill="url(#g2)"/>
<rect x="77.18" y="83.50" width="11.96" height="351.00" fill="url(#g3)"/>
<rect x="88.14" y="83.50" width="11.96" height="351.00" fill="url(#g4)"/>
<rect x="99.10" y="83.50" width="11.96" height="351.00" fill="url(#g5)"/>
<rect x="110.06" y="83.50" width="11.96" height="351.00" fill="url(#g6)"/>
<rect x="121.02" y="83.50" width="11.96" height="351.00" fill="url(#g7)"/>
<rect x="131.98" y="83.50" width="11.96" height="351.00" fill="url(#g8)"/>
<rect x="142.94" y="83.50" width="11.96" height="351.00" fill="url(#g9)"/>
<rect x="153.90" y="83.50" width="11.96" height="351.00" fill="url(#g10)"/>
<rect x="164.86" y="83.50" width="11.96" height="351.00" fill="url(#g11)"/>
<rect x="175.82" y="83.50" width="11.96" height="351.00" fill="url(#g12)"/>
<rect x="186.78" y="83.50" width="11.96" height="351.00" fill="url(#g13)"/>
<rect x="197.74" y="83.50" width="11.96" height="351.00" fill="url(#g14)"/>
<rect x="208.70" y="83.50" width="11.96" height="351.00" fill="url(#g15)"/>
<rect x="219.66" y="83.50" width="11.96" height="351.00" fill="url(#g16)"/>
<rect x="230.62" y="83.50" width="11.96" height="351.00" fill="url(#g17)"/>
<rect x="241.58" y="83.50" width="11.96" height="351.00" fill="url(#g18)"/>
<rect x="252.54" y="83.50" width="11.96" height="351.00" fill="url(#g19)"/>
<rect x="263.50" y="83.50" width="11.96" height="351.00" fill="url(#g20)"/>
<rect x="274.46" y="83.50" width="11.96" height="351.00" fill="url(#g21)"/>
<rect x="285.42" y="83.50" width="11.96" height="351.00" fill="url(#g22)"/>
<rect x="296.38" y="83.50" width="11.96" height="351.00" fill="url(#g23)"/>
<rect x="307.34" y="83.50" width="11.96" height="351.00" fill="url(#g24)"/>
<rect x="318.30" y="83.50" width="11.96" height="351.00" fill="url(#g25)"/>
<rect x="329.26" y="83.50" width="11.96" height="351.00" fill="url(#g26)"/>
<rect x="340.22" y="83.50" width="11.96" height="351.00" fill="url(#g27)"/>
<rect x="351.18" y="83.50" width="11.96" height="351.00" fill="url(#g28)"/>
<rect x="362.14" y="83.50" width="11.96" height="351.00" fill="url(#g29)"/>
<rect x="373.10" y="83.50" width="10.96" height="351.00" fill="url(#g30)"/>
<rect x="384.06" y="384.00" width="10.96" height="50.50" fill="url(#g31)"/>
<rect x="340.22" y="186.9" width="10.96" height="1.2" fill="#fff"/>
<rect x="340.22" y="374.6" width="10.96" height="1.2" fill="#fff"/>
<g stroke="#444" stroke-opacity="0.5" stroke-width="0.9" stroke-dasharray="1 3.4"><line x1="44.4" y1="404.40" x2="395.5" y2="404.40"/><line x1="44.4" y1="377.40" x2="395.5" y2="377.40"/><line x1="44.4" y1="347.50" x2="395.5" y2="347.50"/><line x1="44.4" y1="318.40" x2="395.5" y2="318.40"/><line x1="44.4" y1="288.40" x2="395.5" y2="288.40"/><line x1="44.4" y1="259.30" x2="395.5" y2="259.30"/><line x1="44.4" y1="230.50" x2="395.5" y2="230.50"/><line x1="44.4" y1="200.30" x2="395.5" y2="200.30"/><line x1="44.4" y1="171.30" x2="395.5" y2="171.30"/><line x1="44.4" y1="141.40" x2="395.5" y2="141.40"/><line x1="44.4" y1="112.40" x2="395.5" y2="112.40"/></g>
<rect x="44.5" y="83.5" width="351.0" height="351.0" fill="none" stroke="#000" stroke-width="1"/>
<g stroke="#000" stroke-width="1"><line x1="38.5" y1="434.50" x2="44.5" y2="434.50"/><line x1="38.5" y1="404.40" x2="44.5" y2="404.40"/><line x1="38.5" y1="377.40" x2="44.5" y2="377.40"/><line x1="38.5" y1="347.50" x2="44.5" y2="347.50"/><line x1="38.5" y1="318.40" x2="44.5" y2="318.40"/><line x1="38.5" y1="288.40" x2="44.5" y2="288.40"/><line x1="38.5" y1="259.30" x2="44.5" y2="259.30"/><line x1="38.5" y1="230.50" x2="44.5" y2="230.50"/><line x1="38.5" y1="200.30" x2="44.5" y2="200.30"/><line x1="38.5" y1="171.30" x2="44.5" y2="171.30"/><line x1="38.5" y1="141.40" x2="44.5" y2="141.40"/><line x1="38.5" y1="112.40" x2="44.5" y2="112.40"/><line x1="49.50" y1="434.5" x2="49.50" y2="439.5"/><line x1="60.47" y1="434.5" x2="60.47" y2="439.5"/><line x1="71.43" y1="434.5" x2="71.43" y2="439.5"/><line x1="82.39" y1="434.5" x2="82.39" y2="439.5"/><line x1="93.36" y1="434.5" x2="93.36" y2="439.5"/><line x1="104.33" y1="434.5" x2="104.33" y2="439.5"/><line x1="115.29" y1="434.5" x2="115.29" y2="439.5"/><line x1="126.25" y1="434.5" x2="126.25" y2="439.5"/><line x1="137.22" y1="434.5" x2="137.22" y2="439.5"/><line x1="148.19" y1="434.5" x2="148.19" y2="439.5"/><line x1="159.15" y1="434.5" x2="159.15" y2="439.5"/><line x1="170.12" y1="434.5" x2="170.12" y2="439.5"/><line x1="181.08" y1="434.5" x2="181.08" y2="439.5"/><line x1="192.04" y1="434.5" x2="192.04" y2="439.5"/><line x1="203.01" y1="434.5" x2="203.01" y2="439.5"/><line x1="213.97" y1="434.5" x2="213.97" y2="439.5"/><line x1="224.94" y1="434.5" x2="224.94" y2="439.5"/><line x1="235.91" y1="434.5" x2="235.91" y2="439.5"/><line x1="246.87" y1="434.5" x2="246.87" y2="439.5"/><line x1="257.84" y1="434.5" x2="257.84" y2="439.5"/><line x1="268.80" y1="434.5" x2="268.80" y2="439.5"/><line x1="279.76" y1="434.5" x2="279.76" y2="439.5"/><line x1="290.73" y1="434.5" x2="290.73" y2="439.5"/><line x1="301.69" y1="434.5" x2="301.69" y2="439.5"/><line x1="312.66" y1="434.5" x2="312.66" y2="439.5"/><line x1="323.62" y1="434.5" x2="323.62" y2="439.5"/><line x1="334.59" y1="434.5" x2="334.59" y2="439.5"/><line x1="345.56" y1="434.5" x2="345.56" y2="439.5"/><line x1="356.52" y1="434.5" x2="356.52" y2="439.5"/><line x1="367.49" y1="434.5" x2="367.49" y2="439.5"/><line x1="378.45" y1="434.5" x2="378.45" y2="439.5"/><line x1="389.42" y1="434.5" x2="389.42" y2="439.5"/></g>
<g font-family="Liberation Sans, sans-serif" font-size="10.5" fill="#000"><text x="31.6" y="438.00" text-anchor="end" textLength="18.96" lengthAdjust="spacingAndGlyphs">Oct</text><text x="31.6" y="407.90" text-anchor="end" textLength="21.29" lengthAdjust="spacingAndGlyphs">Nov</text><text x="31.6" y="380.90" text-anchor="end" textLength="21.12" lengthAdjust="spacingAndGlyphs">Dec</text><text x="31.6" y="351.00" text-anchor="end" textLength="16.99" lengthAdjust="spacingAndGlyphs">Jan</text><text x="31.6" y="321.90" text-anchor="end" textLength="19.39" lengthAdjust="spacingAndGlyphs">Feb</text><text x="31.6" y="291.90" text-anchor="end" textLength="20.61" lengthAdjust="spacingAndGlyphs">Mar</text><text x="31.6" y="262.80" text-anchor="end" textLength="18.96" lengthAdjust="spacingAndGlyphs">Apr</text><text x="31.6" y="234.00" text-anchor="end" textLength="22.51" lengthAdjust="spacingAndGlyphs">May</text><text x="31.6" y="203.80" text-anchor="end" textLength="17.21" lengthAdjust="spacingAndGlyphs">Jun</text><text x="31.6" y="174.80" text-anchor="end" textLength="13.47" lengthAdjust="spacingAndGlyphs">Jul</text><text x="31.6" y="144.90" text-anchor="end" textLength="21.30" lengthAdjust="spacingAndGlyphs">Aug</text><text x="31.6" y="115.90" text-anchor="end" textLength="20.59" lengthAdjust="spacingAndGlyphs">Sep</text><text transform="translate(53.80 448.2) rotate(-90)" text-anchor="end" textLength="25.6" lengthAdjust="spacingAndGlyphs">1995</text><text transform="translate(64.77 448.2) rotate(-90)" text-anchor="end" textLength="25.6" lengthAdjust="spacingAndGlyphs">1996</text><text transform="translate(75.73 448.2) rotate(-90)" text-anchor="end" textLength="25.6" lengthAdjust="spacingAndGlyphs">1997</text><text transform="translate(86.69 448.2) rotate(-90)" text-anchor="end" textLength="25.6" lengthAdjust="spacingAndGlyphs">1998</text><text transform="translate(97.66 448.2) rotate(-90)" text-anchor="end" textLength="25.6" lengthAdjust="spacingAndGlyphs">1999</text><text transform="translate(108.62 448.2) rotate(-90)" text-anchor="end" textLength="25.6" lengthAdjust="spacingAndGlyphs">2000</text><text transform="translate(119.59 448.2) rotate(-90)" text-anchor="end" textLength="25.6" lengthAdjust="spacingAndGlyphs">2001</text><text transform="translate(130.56 448.2) rotate(-90)" text-anchor="end" textLength="25.6" lengthAdjust="spacingAndGlyphs">2002</text><text transform="translate(141.52 448.2) rotate(-90)" text-anchor="end" textLength="25.6" lengthAdjust="spacingAndGlyphs">2003</text><text transform="translate(152.49 448.2) rotate(-90)" text-anchor="end" textLength="25.6" lengthAdjust="spacingAndGlyphs">2004</text><text transform="translate(163.45 448.2) rotate(-90)" text-anchor="end" textLength="25.6" lengthAdjust="spacingAndGlyphs">2005</text><text transform="translate(174.42 448.2) rotate(-90)" text-anchor="end" textLength="25.6" lengthAdjust="spacingAndGlyphs">2006</text><text transform="translate(185.38 448.2) rotate(-90)" text-anchor="end" textLength="25.6" lengthAdjust="spacingAndGlyphs">2007</text><text transform="translate(196.34 448.2) rotate(-90)" text-anchor="end" textLength="25.6" lengthAdjust="spacingAndGlyphs">2008</text><text transform="translate(207.31 448.2) rotate(-90)" text-anchor="end" textLength="25.6" lengthAdjust="spacingAndGlyphs">2009</text><text transform="translate(218.28 448.2) rotate(-90)" text-anchor="end" textLength="25.6" lengthAdjust="spacingAndGlyphs">2010</text><text transform="translate(229.24 448.2) rotate(-90)" text-anchor="end" textLength="25.6" lengthAdjust="spacingAndGlyphs">2011</text><text transform="translate(240.21 448.2) rotate(-90)" text-anchor="end" textLength="25.6" lengthAdjust="spacingAndGlyphs">2012</text><text transform="translate(251.17 448.2) rotate(-90)" text-anchor="end" textLength="25.6" lengthAdjust="spacingAndGlyphs">2013</text><text transform="translate(262.14 448.2) rotate(-90)" text-anchor="end" textLength="25.6" lengthAdjust="spacingAndGlyphs">2014</text><text transform="translate(273.10 448.2) rotate(-90)" text-anchor="end" textLength="25.6" lengthAdjust="spacingAndGlyphs">2015</text><text transform="translate(284.06 448.2) rotate(-90)" text-anchor="end" textLength="25.6" lengthAdjust="spacingAndGlyphs">2016</text><text transform="translate(295.03 448.2) rotate(-90)" text-anchor="end" textLength="25.6" lengthAdjust="spacingAndGlyphs">2017</text><text transform="translate(306.00 448.2) rotate(-90)" text-anchor="end" textLength="25.6" lengthAdjust="spacingAndGlyphs">2018</text><text transform="translate(316.96 448.2) rotate(-90)" text-anchor="end" textLength="25.6" lengthAdjust="spacingAndGlyphs">2019</text><text transform="translate(327.93 448.2) rotate(-90)" text-anchor="end" textLength="25.6" lengthAdjust="spacingAndGlyphs">2020</text><text transform="translate(338.89 448.2) rotate(-90)" text-anchor="end" textLength="25.6" lengthAdjust="spacingAndGlyphs">2021</text><text transform="translate(349.86 448.2) rotate(-90)" text-anchor="end" textLength="25.6" lengthAdjust="spacingAndGlyphs">2022</text><text transform="translate(360.82 448.2) rotate(-90)" text-anchor="end" textLength="25.6" lengthAdjust="spacingAndGlyphs">2023</text><text transform="translate(371.79 448.2) rotate(-90)" text-anchor="end" textLength="25.6" lengthAdjust="spacingAndGlyphs">2024</text><text transform="translate(382.75 448.2) rotate(-90)" text-anchor="end" textLength="25.6" lengthAdjust="spacingAndGlyphs">2025</text><text transform="translate(393.72 448.2) rotate(-90)" text-anchor="end" textLength="25.6" lengthAdjust="spacingAndGlyphs">2026</text></g>
<rect x="403.5" y="83.5" width="18.0" height="351.0" fill="url(#cb)" stroke="#000" stroke-width="1"/>
<g stroke="#000" stroke-width="1"><line x1="421.5" y1="83.50" x2="426.5" y2="83.50"/><line x1="421.5" y1="102.65" x2="426.5" y2="102.65"/><line x1="421.5" y1="165.68" x2="426.5" y2="165.68"/><line x1="421.5" y1="228.71" x2="426.5" y2="228.71"/><line x1="421.5" y1="291.73" x2="426.5" y2="291.73"/><line x1="421.5" y1="354.76" x2="426.5" y2="354.76"/><line x1="421.5" y1="417.79" x2="426.5" y2="417.79"/><line x1="421.5" y1="434.50" x2="426.5" y2="434.50"/></g>
<g font-family="Liberation Sans, sans-serif" font-size="10.5" fill="#000"><text x="437" y="87.80" textLength="62.74" lengthAdjust="spacingAndGlyphs">&gt; 1260.768</text><text x="437" y="106.95" textLength="27.22" lengthAdjust="spacingAndGlyphs">1200</text><text x="437" y="169.98" textLength="27.22" lengthAdjust="spacingAndGlyphs">1000</text><text x="437" y="233.01" textLength="20.54" lengthAdjust="spacingAndGlyphs">800</text><text x="437" y="296.03" textLength="20.54" lengthAdjust="spacingAndGlyphs">600</text><text x="437" y="359.06" textLength="20.54" lengthAdjust="spacingAndGlyphs">400</text><text x="437" y="422.09" textLength="20.54" lengthAdjust="spacingAndGlyphs">200</text><text x="437" y="438.80" textLength="56.06" lengthAdjust="spacingAndGlyphs">&lt; 146.978</text></g>
<g font-family="Liberation Sans, sans-serif" font-size="14" font-weight="bold" fill="#000" text-anchor="middle">
<text x="220" y="24.7" textLength="284" lengthAdjust="spacingAndGlyphs">LUS San Joaquin R, San Luis Reservoir State</text>
<text x="219.6" y="43.9" textLength="308" lengthAdjust="spacingAndGlyphs">WY 1995-2026 Daily Average Reservoir Storage</text>
<text x="219.8" y="62.6" textLength="262" lengthAdjust="spacingAndGlyphs">Observed Range 146.978 : 1260.768 TAF</text>
</g>
<g font-family="Liberation Sans, sans-serif" font-size="10.5" fill="#47535c">
<text x="5.4" y="488.8" textLength="207" lengthAdjust="spacingAndGlyphs">www.cbr.washington.edu/sacramento/</text>
<text x="495" y="488.6" text-anchor="end" textLength="144.5" lengthAdjust="spacingAndGlyphs">23 Nov 2025 15:48:42 PST</text>
</g>
</svg></body></html>
